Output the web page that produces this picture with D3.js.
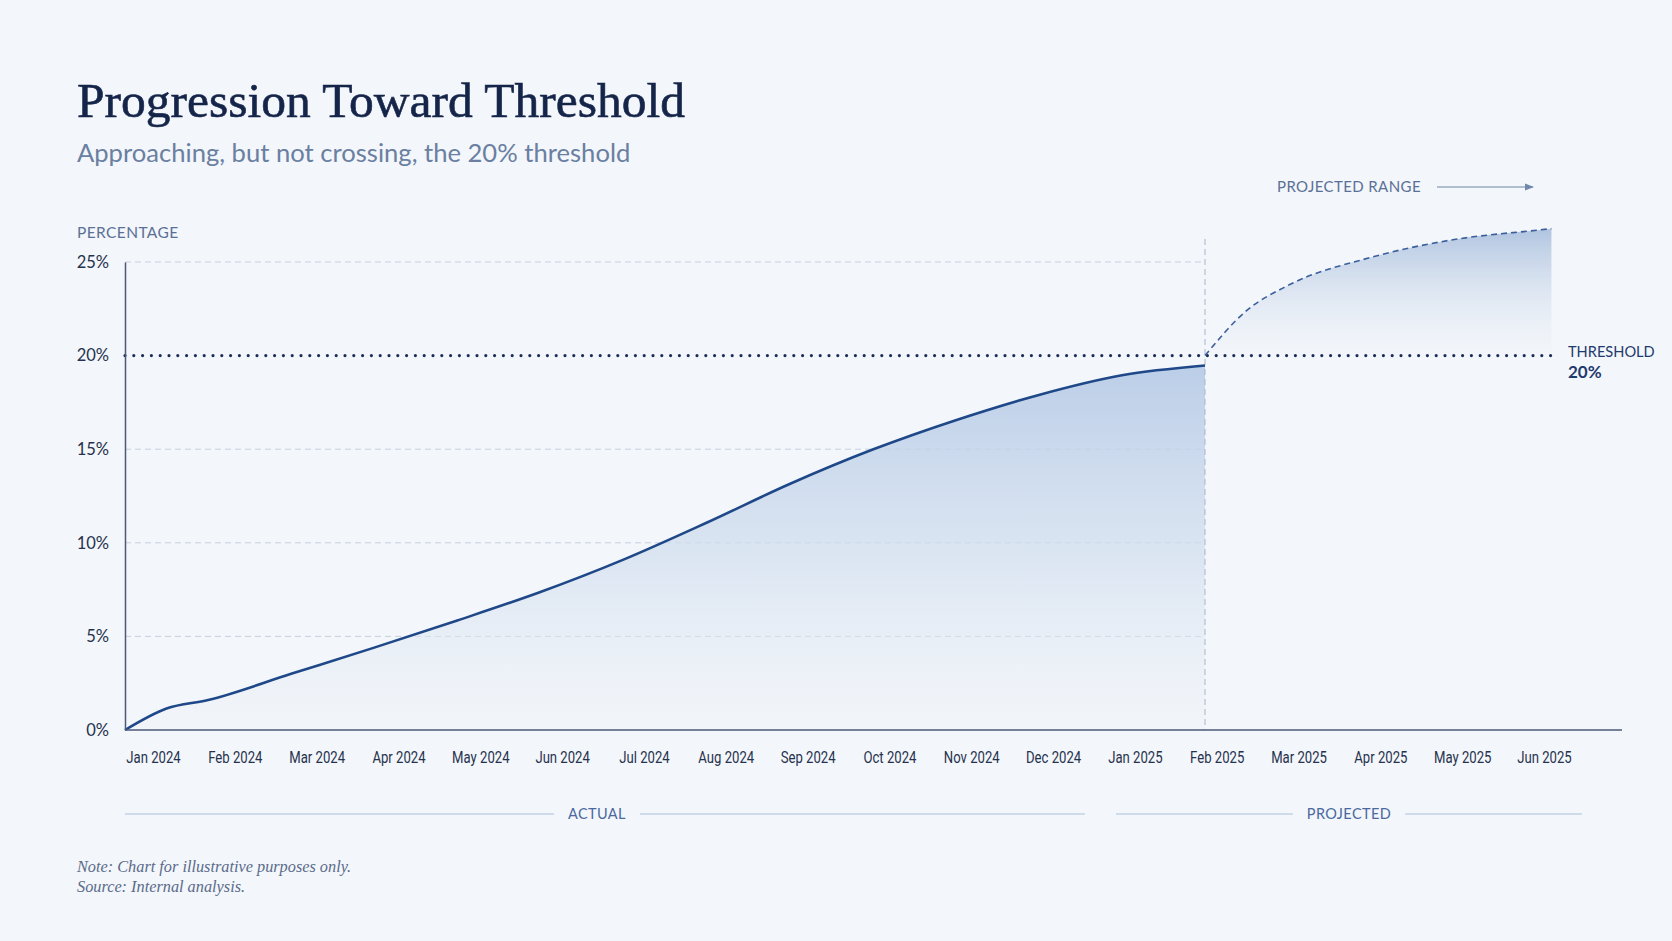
<!DOCTYPE html>
<html>
<head>
<meta charset="utf-8">
<script src="https://cdn.jsdelivr.net/npm/d3@7"></script>
<style>
  html, body { margin: 0; padding: 0; background: #f3f6fa; }
  svg { display: block; }
  .tick text { fill: #26324d; }
</style>
</head>
<body>
<svg width="1672" height="941"></svg>
<script>
// months on the axis
const months = ["Jan 2024", "Feb 2024", "Mar 2024", "Apr 2024", "May 2024", "Jun 2024",
  "Jul 2024", "Aug 2024", "Sep 2024", "Oct 2024", "Nov 2024", "Dec 2024",
  "Jan 2025", "Feb 2025", "Mar 2025", "Apr 2025", "May 2025", "Jun 2025"];

// actual series (month index from Jan 2024, value in %)
const actualIdx = [0, 0.5, 1, 2, 3, 4, 5, 6, 7, 8, 9, 10, 11, 12, 13];
const actualValues = [0, 1.15, 1.6, 3.0, 4.4, 5.85, 7.37, 9.1, 11.07, 13.14, 14.98, 16.55, 17.9, 18.95, 19.47];

// projected upper bound
const projIdx = [13, 13.5, 14, 15, 16, 17, 17.17];
const projValues = [20, 22.4, 23.75, 25.25, 26.2, 26.7, 26.78];

const yTicks = [0, 5, 10, 15, 20, 25];
const gridTicks = [5, 10, 15, 25];
const threshold = 20;

var svg = d3.select("svg");

var x = d3.scaleLinear().domain([0, 13]).range([125, 1205]),
    y = d3.scaleLinear().domain([0, 25]).range([730, 262]);

var xLab = d3.scalePoint().domain(months).range([153, 1544]);

var defs = svg.append("defs");
var gA = defs.append("linearGradient").attr("id", "gradActual")
    .attr("gradientUnits", "userSpaceOnUse")
    .attr("x1", 0).attr("x2", 0).attr("y1", y(20)).attr("y2", y(0));
gA.append("stop").attr("offset", 0).attr("stop-color", "#b3c8e5").attr("stop-opacity", 0.9);
gA.append("stop").attr("offset", 0.55).attr("stop-color", "#d2dfef").attr("stop-opacity", 0.7);
gA.append("stop").attr("offset", 1).attr("stop-color", "#eef2f8").attr("stop-opacity", 0.3);

var gP = defs.append("linearGradient").attr("id", "gradProj")
    .attr("gradientUnits", "userSpaceOnUse")
    .attr("x1", 0).attr("x2", 0).attr("y1", y(27)).attr("y2", y(20));
gP.append("stop").attr("offset", 0).attr("stop-color", "#a9bfdd").attr("stop-opacity", 0.95);
gP.append("stop").attr("offset", 1).attr("stop-color", "#eff3f9").attr("stop-opacity", 0.2);

var arrow = defs.append("marker").attr("id", "arr")
    .attr("viewBox", "0 0 10 10").attr("refX", 9).attr("refY", 5)
    .attr("markerWidth", 9).attr("markerHeight", 9).attr("orient", "auto")
    .attr("markerUnits", "userSpaceOnUse");
arrow.append("path").attr("d", "M0,1 L10,5 L0,9 Z").attr("fill", "#7086aa");

// title block
svg.append("text").attr("x", 77).attr("y", 117)
    .style("font-family", "'Liberation Serif', 'DejaVu Serif', serif")
    .style("font-size", "49.5px").attr("fill", "#15254a")
    .attr("stroke", "#15254a").attr("stroke-width", 0.6)
    .text("Progression Toward Threshold");

svg.append("text").attr("x", 77).attr("y", 162)
    .style("font-family", "Lato, sans-serif")
    .style("font-size", "25.6px").attr("fill", "#6a7fa1")
    .text("Approaching, but not crossing, the 20% threshold");

svg.append("text").attr("x", 77).attr("y", 238)
    .style("font-family", "Lato, sans-serif").style("font-size", "15.5px")
    .style("letter-spacing", "0.4px").attr("fill", "#5b7096")
    .text("PERCENTAGE");

// grid
svg.append("g").selectAll("line").data(gridTicks).enter().append("line")
    .attr("x1", x(0)).attr("x2", x(13))
    .attr("y1", d => y(d)).attr("y2", d => y(d))
    .attr("stroke", "#c6cfdd").attr("stroke-width", 1).attr("stroke-dasharray", "6,4");

// areas
var areaA = d3.area().x((d, i) => x(actualIdx[i])).y0(y(0)).y1(d => y(d)).curve(d3.curveMonotoneX);
svg.append("path").datum(actualValues).attr("d", areaA).attr("fill", "url(#gradActual)");

var areaP = d3.area().x((d, i) => x(projIdx[i])).y0(y(threshold)).y1(d => y(d)).curve(d3.curveMonotoneX);
svg.append("path").datum(projValues).attr("d", areaP).attr("fill", "url(#gradProj)");

// divider between actual and projected
svg.append("line").attr("x1", x(13)).attr("x2", x(13)).attr("y1", 239).attr("y2", y(0))
    .attr("stroke", "#a8b5ca").attr("stroke-width", 1).attr("stroke-dasharray", "6,4");

// threshold
svg.append("line").attr("x1", x(0)).attr("x2", x(projIdx[projIdx.length - 1]))
    .attr("y1", y(threshold)).attr("y2", y(threshold))
    .attr("stroke", "#1a2d57").attr("stroke-width", 3.2)
    .attr("stroke-linecap", "round").attr("stroke-dasharray", "0,8.8");

// lines
var lineA = d3.line().x((d, i) => x(actualIdx[i])).y(d => y(d)).curve(d3.curveMonotoneX);
svg.append("path").datum(actualValues).attr("d", lineA)
    .attr("fill", "none").attr("stroke", "#1f4889").attr("stroke-width", 2.6);

var lineP = d3.line().x((d, i) => x(projIdx[i])).y(d => y(d)).curve(d3.curveMonotoneX);
svg.append("path").datum(projValues).attr("d", lineP)
    .attr("fill", "none").attr("stroke", "#3a5f9c").attr("stroke-width", 1.6)
    .attr("stroke-dasharray", "6,4");

// axes
var yAxis = svg.append("g").attr("transform", "translate(125,0)")
    .call(d3.axisLeft(y).tickValues(yTicks).tickSize(0).tickPadding(16).tickFormat(d => d + "%"));
yAxis.select(".domain").attr("stroke", "#4b5a78").attr("stroke-width", 1.5);
yAxis.selectAll("text").style("font-family", "Lato, sans-serif").style("font-size", "16.5px");

svg.append("line").attr("x1", 125).attr("x2", 1622).attr("y1", y(0)).attr("y2", y(0))
    .attr("stroke", "#4b5a78").attr("stroke-width", 1.5);

var xAxis = svg.append("g").attr("transform", "translate(0," + y(0) + ")")
    .call(d3.axisBottom(xLab).tickSize(0).tickPadding(22));
xAxis.select(".domain").remove();
xAxis.selectAll("text")
    .style("font-family", "Roboto, sans-serif")
    .style("font-size", "16px")
    .attr("transform", "scale(0.82,1)");

// threshold label
svg.append("text").attr("x", 1568).attr("y", 357)
    .style("font-family", "Lato, sans-serif").style("font-size", "14.6px")
    .attr("fill", "#1f3a6e").text("THRESHOLD");
svg.append("text").attr("x", 1568).attr("y", 378)
    .style("font-family", "Lato, sans-serif").style("font-size", "17px").style("font-weight", "bold")
    .attr("fill", "#1f3a6e").text("20%");

// projected range label
svg.append("text").attr("x", 1277).attr("y", 192)
    .style("font-family", "Lato, sans-serif").style("font-size", "15px")
    .style("letter-spacing", "0.4px").attr("fill", "#5b7096").text("PROJECTED RANGE");
svg.append("line").attr("x1", 1437).attr("x2", 1533).attr("y1", 187).attr("y2", 187)
    .attr("stroke", "#7086aa").attr("stroke-width", 1.2).attr("marker-end", "url(#arr)");

// period brackets
var periods = [
  {label: "ACTUAL", x0: 125, x1: 1085, cx: 597},
  {label: "PROJECTED", x0: 1116, x1: 1582, cx: 1349}
];
periods.forEach(function(p) {
  var t = svg.append("text").attr("x", p.cx).attr("y", 819).attr("text-anchor", "middle")
      .style("font-family", "Lato, sans-serif").style("font-size", "14.5px")
      .style("letter-spacing", "0.4px").attr("fill", "#4a69a0").text(p.label);
  var w = t.node().getComputedTextLength();
  svg.append("line").attr("x1", p.x0).attr("x2", p.cx - w / 2 - 14).attr("y1", 814).attr("y2", 814)
      .attr("stroke", "#aabfdc").attr("stroke-width", 1.2);
  svg.append("line").attr("x1", p.cx + w / 2 + 14).attr("x2", p.x1).attr("y1", 814).attr("y2", 814)
      .attr("stroke", "#aabfdc").attr("stroke-width", 1.2);
});

// notes
svg.append("text").attr("x", 77).attr("y", 872)
    .style("font-family", "'Liberation Serif', serif").style("font-style", "italic")
    .style("font-size", "16.3px").attr("fill", "#5a6b8a")
    .text("Note: Chart for illustrative purposes only.");
svg.append("text").attr("x", 77).attr("y", 892)
    .style("font-family", "'Liberation Serif', serif").style("font-style", "italic")
    .style("font-size", "16.3px").attr("fill", "#5a6b8a")
    .text("Source: Internal analysis.");
</script>
</body>
</html>
